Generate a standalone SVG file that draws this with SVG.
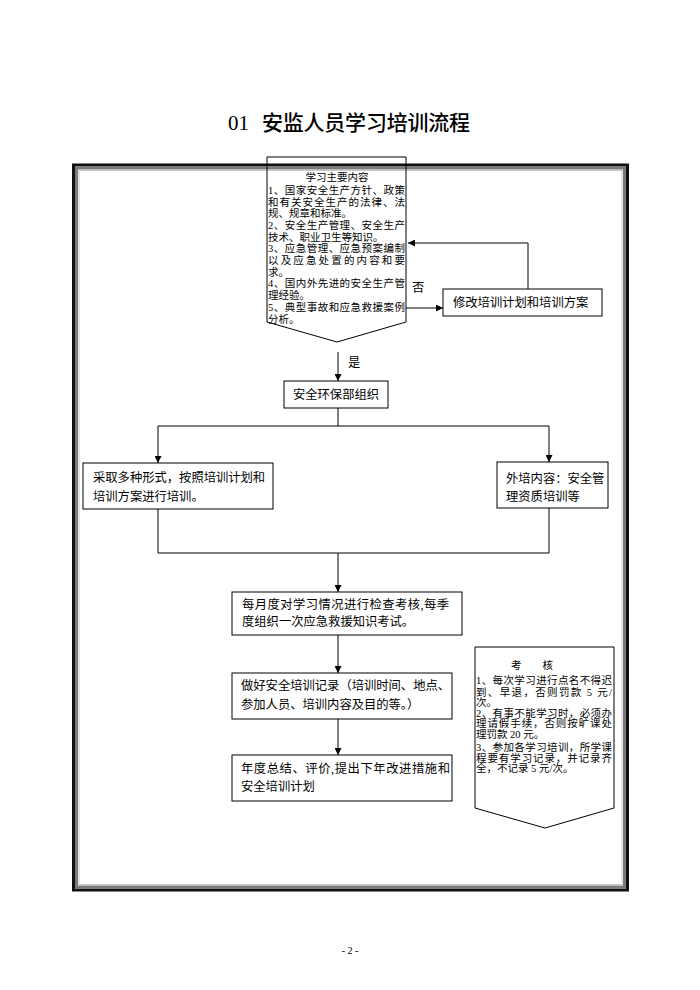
<svg xmlns="http://www.w3.org/2000/svg" width="700" height="990" viewBox="0 0 700 990">
<defs>
<marker id="arr" viewBox="0 0 10 10" refX="10" refY="5" markerWidth="7" markerHeight="7" markerUnits="userSpaceOnUse" orient="auto">
<path d="M0,0 L10,5 L0,10 z" fill="#000"/>
</marker>
<style>
.t{font-family:"Liberation Serif","Noto Sans CJK SC",serif;fill:#000}
.s{font-size:10.5px}
.m{font-size:12.3px}
.box{fill:#fff;stroke:#000;stroke-width:1}
.ln{fill:none;stroke:#000;stroke-width:1}
</style>
</defs>
<rect width="700" height="990" fill="#fff"/>
<g id="title">
<text x="228" y="130" style="font-family:'Liberation Serif',serif;font-size:21px">01</text>
<text x="262" y="130" textLength="208" lengthAdjust="spacing" style="font-family:'Noto Sans CJK SC',sans-serif;font-size:21px;font-weight:500">安监人员学习培训流程</text>
</g>

<g id="frame">
<rect x="73.5" y="165" width="554" height="725" fill="none" stroke="#111" stroke-width="3"/>
<rect x="76.5" y="168" width="548" height="719" fill="none" stroke="#7a7a7a" stroke-width="3"/>
<rect x="79" y="170.5" width="543" height="714" fill="none" stroke="#c8c8c8" stroke-width="1"/>
</g>

<g id="n-content">
<path d="M267,157 H406 V322 L337,342 L267,322 Z" fill="none" stroke="#000" stroke-width="1"/>
<text class="t s" x="337" y="181" text-anchor="middle">学习主要内容</text>
<text class="t s" x="268" y="194" textLength="137" lengthAdjust="spacing">1、国家安全生产方针、政策</text>
<text class="t s" x="268" y="206" textLength="137" lengthAdjust="spacing">和有关安全生产的法律、法</text>
<text class="t s" x="268" y="217">规、规章和标准。</text>
<text class="t s" x="268" y="229" textLength="137" lengthAdjust="spacing">2、安全生产管理、安全生产</text>
<text class="t s" x="268" y="241">技术、职业卫生等知识。</text>
<text class="t s" x="268" y="252" textLength="137" lengthAdjust="spacing">3、应急管理、应急预案编制</text>
<text class="t s" x="268" y="264" textLength="137" lengthAdjust="spacing">以及应急处置的内容和要</text>
<text class="t s" x="268" y="276">求。</text>
<text class="t s" x="268" y="287" textLength="137" lengthAdjust="spacing">4、国内外先进的安全生产管</text>
<text class="t s" x="268" y="299">理经验。</text>
<text class="t s" x="268" y="311" textLength="137" lengthAdjust="spacing">5、典型事故和应急救援案例</text>
<text class="t s" x="268" y="323">分析。</text>
</g>

<g id="n-modify">
<rect class="box" x="443" y="289" width="159" height="27"/>
<text class="t m" x="453" y="307">修改培训计划和培训方案</text>
</g>

<g id="n-org">
<rect class="box" x="284" y="381" width="104" height="27"/>
<text class="t m" x="336" y="399" text-anchor="middle">安全环保部组织</text>
</g>

<g id="n-left">
<rect class="box" x="83" y="463" width="190" height="46"/>
<text class="t m" x="93" y="482">采取多种形式，按照培训计划和</text>
<text class="t m" x="93" y="501">培训方案进行培训。</text>
</g>

<g id="n-right">
<rect class="box" x="497" y="462" width="111" height="46"/>
<text class="t m" x="506" y="483">外培内容：安全管</text>
<text class="t m" x="506" y="501">理资质培训等</text>
</g>

<g id="n-monthly">
<rect class="box" x="232" y="592" width="230" height="43"/>
<text class="t m" x="242" y="609" textLength="207" lengthAdjust="spacing">每月度对学习情况进行检查考核,每季</text>
<text class="t m" x="242" y="626">度组织一次应急救援知识考试。</text>
</g>

<g id="n-record">
<rect class="box" x="232" y="673" width="220" height="46"/>
<text class="t m" x="241" y="690">做好安全培训记录（培训时间、地点、</text>
<text class="t m" x="241" y="709">参加人员、培训内容及目的等。）</text>
</g>

<g id="n-year">
<rect class="box" x="232" y="755" width="220" height="46"/>
<text class="t m" x="241" y="773" textLength="209" lengthAdjust="spacing">年度总结、评价,提出下年改进措施和</text>
<text class="t m" x="241" y="791">安全培训计划</text>
</g>

<g id="n-exam">
<path d="M475,647 H614 V808 L545,828 L475,808 Z" fill="none" stroke="#000" stroke-width="1"/>
<text class="t s" x="532" y="669" text-anchor="middle">考　　核</text>
<text class="t s" x="476" y="684" textLength="136" lengthAdjust="spacing">1、每次学习进行点名不得迟</text>
<text class="t s" x="476" y="696" textLength="136" lengthAdjust="spacing">到、早退，否则罚款 5 元/</text>
<text class="t s" x="476" y="706">次。</text>
<text class="t s" x="476" y="717" textLength="136" lengthAdjust="spacing">2、有事不能学习时，必须办</text>
<text class="t s" x="476" y="727" textLength="136" lengthAdjust="spacing">理请假手续，否则按旷课处</text>
<text class="t s" x="476" y="738">理罚款 20 元。</text>
<text class="t s" x="476" y="751" textLength="136" lengthAdjust="spacing">3、参加各学习培训，所学课</text>
<text class="t s" x="476" y="762" textLength="136" lengthAdjust="spacing">程要有学习记录，并记录齐</text>
<text class="t s" x="476" y="772">全，不记录 5 元/次。</text>
</g>

<g id="connectors">
<path class="ln" d="M338,352 V381" marker-end="url(#arr)"/>
<path class="ln" d="M528,289 V243 H408" marker-end="url(#arr)"/>
<path class="ln" d="M406,308 H443" marker-end="url(#arr)"/>
<path class="ln" d="M338,408 V426"/>
<path class="ln" d="M158,426 H549"/>
<path class="ln" d="M158,426 V463" marker-end="url(#arr)"/>
<path class="ln" d="M549,426 V462" marker-end="url(#arr)"/>
<path class="ln" d="M158,509 V553 H549 V508"/>
<path class="ln" d="M338,553 V592" marker-end="url(#arr)"/>
<path class="ln" d="M338,635 V673" marker-end="url(#arr)"/>
<path class="ln" d="M338,719 V755" marker-end="url(#arr)"/>
<text class="t m" x="412" y="292">否</text>
<text class="t m" x="348" y="367">是</text>
</g>

<text x="350" y="954" text-anchor="middle" style="font-family:'Liberation Serif',serif;font-size:10px">- 2 -</text>
</svg>
